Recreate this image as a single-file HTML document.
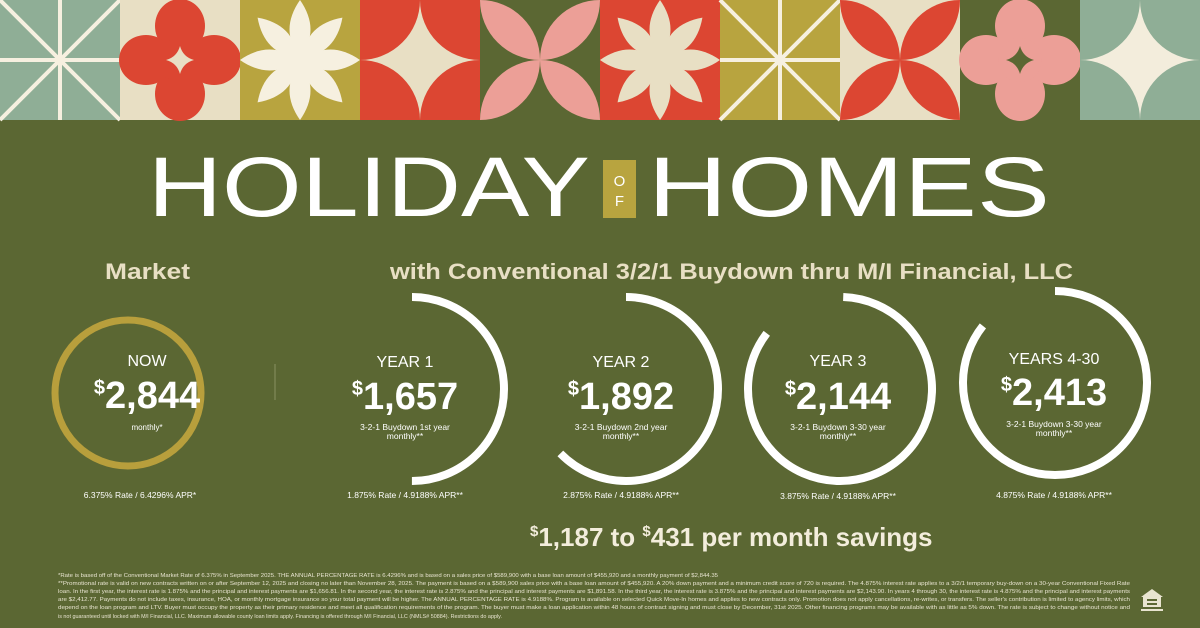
<!DOCTYPE html>
<html><head><meta charset="utf-8"><style>
html,body{margin:0;padding:0;background:#5b6733;}
svg{display:block}
text{font-family:"Liberation Sans",sans-serif;}
</style></head><body>
<svg width="1200" height="628" viewBox="0 0 1200 628" xmlns="http://www.w3.org/2000/svg">
<defs>
<clipPath id="tc"><rect x="0" y="0" width="120" height="120"/></clipPath>
<g id="lines"><g stroke="#f6f0e0" stroke-width="4"><line x1="60" y1="0" x2="60" y2="120"/><line x1="0" y1="60" x2="120" y2="60"/><line x1="0" y1="0" x2="120" y2="120"/><line x1="120" y1="0" x2="0" y2="120"/></g></g>
<path id="star4" d="M60 0 A60 60 0 0 0 120 60 A60 60 0 0 0 60 120 A60 60 0 0 0 0 60 A60 60 0 0 0 60 0Z"/>
<g id="lens"><path d="M0 0 A60 60 0 0 1 60 60 A60 60 0 0 1 0 0Z"/><path d="M120 0 A60 60 0 0 0 60 60 A60 60 0 0 0 120 0Z"/><path d="M0 120 A60 60 0 0 0 60 60 A60 60 0 0 0 0 120Z"/><path d="M120 120 A60 60 0 0 1 60 60 A60 60 0 0 1 120 120Z"/></g>
<path id="pet" d="M0 -60 C14 -40 14 -20 0 -4 C-14 -20 -14 -40 0 -60Z"/>
<g id="flower8"><g transform="translate(60,60)">
<use href="#pet"/><use href="#pet" transform="rotate(45)"/><use href="#pet" transform="rotate(90)"/><use href="#pet" transform="rotate(135)"/><use href="#pet" transform="rotate(180)"/><use href="#pet" transform="rotate(225)"/><use href="#pet" transform="rotate(270)"/><use href="#pet" transform="rotate(315)"/>
<circle r="12"/></g></g>
<g id="clover"><g transform="translate(60,60)">
<ellipse cx="0" cy="-34" rx="25" ry="27"/><ellipse cx="0" cy="34" rx="25" ry="27"/><ellipse cx="-34" cy="0" rx="27" ry="25"/><ellipse cx="34" cy="0" rx="27" ry="25"/><circle r="22"/></g></g>
</defs>
<rect width="1200" height="628" fill="#5b6733"/>
<g>
<rect x="0" y="0" width="120" height="120" fill="#8fae96"/><use href="#lines" x="0"/>
<rect x="120" y="0" width="120" height="120" fill="#e8dfc4"/><use href="#clover" x="120" fill="#dc4632"/><path transform="translate(180,60)" d="M0 -14 Q3 -3 14 0 Q3 3 0 14 Q-3 3 -14 0 Q-3 -3 0 -14Z" fill="#e8dfc4"/>
<rect x="240" y="0" width="120" height="120" fill="#b8a43f"/><g transform="translate(240,0)" clip-path="url(#tc)"><use href="#flower8" fill="#f6f0e0"/></g>
<rect x="360" y="0" width="120" height="120" fill="#dc4632"/><use href="#star4" x="360" fill="#e8dfc4"/>
<rect x="480" y="0" width="120" height="120" fill="#5b6733"/><use href="#lens" x="480" fill="#ec9f97"/>
<rect x="600" y="0" width="120" height="120" fill="#dc4632"/><g transform="translate(600,0)" clip-path="url(#tc)"><use href="#flower8" fill="#e8dfc4"/></g>
<rect x="720" y="0" width="120" height="120" fill="#b8a43f"/><use href="#lines" x="720"/>
<rect x="840" y="0" width="120" height="120" fill="#e8dfc4"/><use href="#lens" x="840" fill="#dc4632"/>
<rect x="960" y="0" width="120" height="120" fill="#5b6733"/><use href="#clover" x="960" fill="#ec9f97"/><path transform="translate(1020,60)" d="M0 -14 Q3 -3 14 0 Q3 3 0 14 Q-3 3 -14 0 Q-3 -3 0 -14Z" fill="#5b6733"/>
<rect x="1080" y="0" width="120" height="120" fill="#8fae96"/><use href="#star4" x="1080" fill="#f3eddc"/>
</g>
<text x="148" y="216" font-size="84" fill="#fff" textLength="442" lengthAdjust="spacingAndGlyphs">HOLIDAY</text>
<rect x="603" y="160" width="33" height="58" fill="#b8a43f"/>
<text x="619.5" y="186" font-size="15" fill="#fff" text-anchor="middle">O</text>
<text x="619.5" y="206" font-size="15" fill="#fff" text-anchor="middle">F</text>
<text x="648" y="216" font-size="84" fill="#fff" textLength="402" lengthAdjust="spacingAndGlyphs">HOMES</text>
<text x="105" y="279" font-size="22" font-weight="bold" fill="#e8dfc4" textLength="85" lengthAdjust="spacingAndGlyphs">Market</text>
<text x="390" y="279" font-size="22" font-weight="bold" fill="#e8dfc4" textLength="683" lengthAdjust="spacingAndGlyphs">with Conventional 3/2/1 Buydown thru M/I Financial, LLC</text>
<line x1="275" y1="364" x2="275" y2="400" stroke="#8a9162" stroke-width="1"/>
<circle cx="128" cy="393" r="73" fill="none" stroke="#b89f3c" stroke-width="7"/>
<circle cx="412" cy="389" r="92" fill="none" stroke="#fff" stroke-width="8" stroke-dasharray="289 1000" transform="rotate(-90 412 389)"/>
<circle cx="626" cy="389" r="92" fill="none" stroke="#fff" stroke-width="8" stroke-dasharray="362 1000" transform="rotate(-90 626 389)"/>
<circle cx="840" cy="389" r="92" fill="none" stroke="#fff" stroke-width="8" stroke-dasharray="490 1000" transform="rotate(-88 840 389)"/>
<circle cx="1055" cy="383" r="92" fill="none" stroke="#fff" stroke-width="8" stroke-dasharray="495 1000" transform="rotate(-90 1055 383)"/>
<g fill="#fff" text-anchor="middle">
<text x="147" y="366" font-size="16">NOW</text>
<text x="147" y="408" font-size="38" font-weight="bold"><tspan font-size="20" dy="-14">$</tspan><tspan dy="14">2,844</tspan></text>
<text x="147" y="430" font-size="8">monthly*</text>
<text x="140" y="498" font-size="8.5">6.375% Rate / 6.4296% APR*</text>
<text x="405" y="367" font-size="16">YEAR 1</text>
<text x="405" y="409" font-size="38" font-weight="bold"><tspan font-size="20" dy="-14">$</tspan><tspan dy="14">1,657</tspan></text>
<text x="405" y="430" font-size="8.5">3-2-1 Buydown 1st year</text>
<text x="405" y="439" font-size="8.5">monthly**</text>
<text x="405" y="498" font-size="8.5">1.875% Rate / 4.9188% APR**</text>
<text x="621" y="367" font-size="16">YEAR 2</text>
<text x="621" y="409" font-size="38" font-weight="bold"><tspan font-size="20" dy="-14">$</tspan><tspan dy="14">1,892</tspan></text>
<text x="621" y="430" font-size="8.5">3-2-1 Buydown 2nd year</text>
<text x="621" y="439" font-size="8.5">monthly**</text>
<text x="621" y="498" font-size="8.5">2.875% Rate / 4.9188% APR**</text>
<text x="838" y="366" font-size="16">YEAR 3</text>
<text x="838" y="409" font-size="38" font-weight="bold"><tspan font-size="20" dy="-14">$</tspan><tspan dy="14">2,144</tspan></text>
<text x="838" y="430" font-size="8.5">3-2-1 Buydown 3-30 year</text>
<text x="838" y="439" font-size="8.5">monthly**</text>
<text x="838" y="499" font-size="8.5">3.875% Rate / 4.9188% APR**</text>
<text x="1054" y="364" font-size="16">YEARS 4-30</text>
<text x="1054" y="405" font-size="38" font-weight="bold"><tspan font-size="20" dy="-14">$</tspan><tspan dy="14">2,413</tspan></text>
<text x="1054" y="427" font-size="8.5">3-2-1 Buydown 3-30 year</text>
<text x="1054" y="436" font-size="8.5">monthly**</text>
<text x="1054" y="498" font-size="8.5">4.875% Rate / 4.9188% APR**</text>
</g>
<text x="530" y="546" font-size="26" font-weight="bold" fill="#f3eddc"><tspan font-size="15" dy="-10">$</tspan><tspan dy="10">1,187 to </tspan><tspan font-size="15" dy="-10">$</tspan><tspan dy="10">431 per month savings</tspan></text>
<g fill="#e8e4d0" font-size="5">
<text x="58" y="577" textLength="660" lengthAdjust="spacingAndGlyphs">*Rate is based off of the Conventional Market Rate of 6.375% in September 2025. THE ANNUAL PERCENTAGE RATE is 6.4296% and is based on a sales price of $589,900 with a base loan amount of $455,920 and a monthly payment of $2,844.35</text>
<text x="58" y="585" textLength="1072" lengthAdjust="spacingAndGlyphs">**Promotional rate is valid on new contracts written on or after September 12, 2025 and closing no later than November 28, 2025. The payment is based on a $589,900 sales price with a base loan amount of $455,920. A 20% down payment and a minimum credit score of 720 is required. The 4.875% interest rate applies to a 3/2/1 temporary buy-down on a 30-year Conventional Fixed Rate</text>
<text x="58" y="593" textLength="1072" lengthAdjust="spacingAndGlyphs">loan. In the first year, the interest rate is 1.875% and the principal and interest payments are $1,656.81. In the second year, the interest rate is 2.875% and the principal and interest payments are $1,891.58. In the third year, the interest rate is 3.875% and the principal and interest payments are $2,143.90. In years 4 through 30, the interest rate is 4.875% and the principal and interest payments</text>
<text x="58" y="601" textLength="1072" lengthAdjust="spacingAndGlyphs">are $2,412.77. Payments do not include taxes, insurance, HOA, or monthly mortgage insurance so your total payment will be higher. The ANNUAL PERCENTAGE RATE is 4.9188%. Program is available on selected Quick Move-In homes and applies to new contracts only. Promotion does not apply cancellations, re-writes, or transfers. The seller's contribution is limited to agency limits, which</text>
<text x="58" y="609" textLength="1072" lengthAdjust="spacingAndGlyphs">depend on the loan program and LTV. Buyer must occupy the property as their primary residence and meet all qualification requirements of the program. The buyer must make a loan application within 48 hours of contract signing and must close by December, 31st 2025. Other financing programs may be available with as little as 5% down. The rate is subject to change without notice and</text>
<text x="58" y="618" textLength="444" lengthAdjust="spacingAndGlyphs">is not guaranteed until locked with M/I Financial, LLC. Maximum allowable county loan limits apply. Financing is offered through M/I Financial, LLC (NMLS# 50884). Restrictions do apply.</text>
</g>
<g fill="#e8e4d0">
<path d="M1141 597 L1152 589 L1163 597 Z"/>
<rect x="1143" y="597" width="18" height="10"/>
<rect x="1147" y="599" width="10" height="2" fill="#5b6733"/>
<rect x="1147" y="603" width="10" height="2" fill="#5b6733"/>
<rect x="1141" y="609" width="22" height="2"/>
</g>
</svg>
</body></html>
